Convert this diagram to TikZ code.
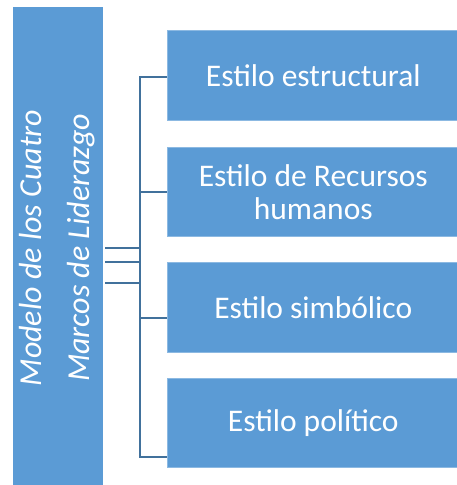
\documentclass[tikz,border=0pt]{standalone}
\usepackage{fontspec}
\setmainfont{Carlito}
\definecolor{boxblue}{HTML}{5B9BD5}
\definecolor{linkblue}{HTML}{41719C}
\begin{document}
\begin{tikzpicture}[x=1pt,y=-1pt,
  stylebox/.style={fill=boxblue, draw=boxblue!70!white, line width=0.6pt, anchor=north west, inner sep=0pt},
  boxtext/.style={text=white, font=\fontsize{31.5}{33}\selectfont, align=center, inner sep=0pt},
  link/.style={draw=linkblue, line width=1.6pt}]
\useasboundingbox (0,0) rectangle (456,485);
\fill[boxblue] (13,7) rectangle (103,487);
\node[text=white, font=\fontsize{32}{48}\selectfont\itshape, rotate=90, align=center, inner sep=0pt] (main) at (57.5,248) {Modelo de los Cuatro\\Marcos de Liderazgo};
\coordinate (mainE1) at (105,248);
\coordinate (mainE2) at (105,262);
\coordinate (mainE3) at (105,283);
\node[stylebox, minimum width=292pt, minimum height=90pt] (b1) at (167,30) {};
\node[boxtext] at (b1.center) {Estilo estructural};
\node[stylebox, minimum width=292pt, minimum height=89pt] (b2) at (167,147) {};
\node[boxtext] at (b2.center) {Estilo de Recursos\\humanos};
\node[stylebox, minimum width=292pt, minimum height=90pt] (b3) at (167,262) {};
\node[boxtext] at (b3.center) {Estilo simbólico};
\node[stylebox, minimum width=292pt, minimum height=89pt] (b4) at (167,378) {};
\node[boxtext] at (b4.center) {Estilo político};
\coordinate (t1) at (140,77);
\coordinate (t2) at (140,192);
\coordinate (t3) at (140,318);
\coordinate (t4) at (140,457);
\draw[link] (b1.west |- t1) -- (t1) -- (t4) -- (b4.west |- t4);
\draw[link] (t2) -- (b2.west |- t2);
\draw[link] (t3) -- (b3.west |- t3);
\draw[link] (mainE1) -- (mainE1 -| t1);
\draw[link] (mainE2) -- (mainE2 -| t1);
\draw[link] (mainE3) -- (mainE3 -| t1);
\end{tikzpicture}
\end{document}
